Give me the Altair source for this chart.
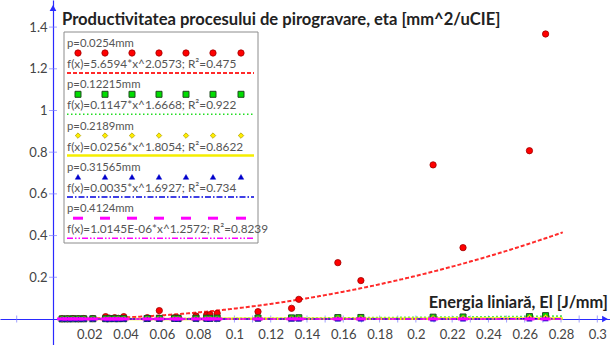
import altair as alt
import pandas as pd

# ---------------- data ----------------
el = [0.005, 0.008, 0.011, 0.014, 0.017, 0.022, 0.029, 0.031, 0.034, 0.036, 0.039,
      0.052, 0.0586, 0.067, 0.069, 0.0788, 0.0847, 0.0865, 0.0905, 0.113, 0.1315,
      0.1355, 0.157, 0.1697, 0.2095, 0.226, 0.2626, 0.2715]

eta_p1 = [0.001, 0.001, 0.002, 0.001, 0.002, 0.002, 0.011, 0.004, 0.006, 0.003, 0.011,
          0.006, 0.040, 0.006, 0.005, 0.014, 0.019, 0.021, 0.027, 0.035, 0.051,
          0.094, 0.270, 0.184, 0.739, 0.342, 0.807, 1.367]
eta_p2 = [0.0002, 0.0003, 0.0004, 0.0005, 0.0006, 0.0009, 0.0012, 0.0010, 0.0013, 0.0011, 0.0015,
          0.0020, 0.0026, 0.0028, 0.0024, 0.0033, 0.0036, 0.0031, 0.0039, 0.0046, 0.0050,
          0.0058, 0.0064, 0.0072, 0.0085, 0.0094, 0.0112, 0.0158]
eta_p3 = [0.0000, 0.0001, 0.0001, 0.0001, 0.0001, 0.0002, 0.0003, 0.0003, 0.0003, 0.0004, 0.0004,
          0.0006, 0.0007, 0.0009, 0.0009, 0.0011, 0.0012, 0.0013, 0.0013, 0.0020, 0.0025,
          0.0027, 0.0035, 0.0041, 0.0052, 0.0060, 0.0078, 0.0091]
eta_p4 = [0.0000, 0.0000, 0.0000, 0.0000, 0.0000, 0.0000, 0.0001, 0.0001, 0.0001, 0.0001, 0.0001,
          0.0001, 0.0001, 0.0001, 0.0001, 0.0002, 0.0002, 0.0002, 0.0002, 0.0003, 0.0003,
          0.0004, 0.0005, 0.0005, 0.0007, 0.0007, 0.0009, 0.0011]
eta_p5 = [0.0] * 28

series_names = ["p=0.0254mm", "p=0.12215mm", "p=0.2189mm", "p=0.31565mm", "p=0.4124mm"]
series_values = [eta_p1, eta_p2, eta_p3, eta_p4, eta_p5]
fit_a = [5.6594, 0.1147, 0.0256, 0.0035, 1.0145e-06]
fit_b = [2.0573, 1.6668, 1.8054, 1.6927, 1.2572]
fit_labels = ["f(x)=5.6594*x^2.0573; R²=0.475",
              "f(x)=0.1147*x^1.6668; R²=0.922",
              "f(x)=0.0256*x^1.8054; R²=0.8622",
              "f(x)=0.0035*x^1.6927; R²=0.734",
              "f(x)=1.0145E-06*x^1.2572; R²=0.8239"]
fit_x_range = [0.004, 0.2815]

x_tick_labels = [0.02, 0.04, 0.06, 0.08, 0.1, 0.12, 0.14, 0.16, 0.18, 0.2, 0.22, 0.24, 0.26, 0.28, 0.3]
x_minor_ticks = [-0.02] + [round(0.01 * i, 2) for i in range(1, 31)]
y_tick_labels = [0.2, 0.4, 0.6, 0.8, 1.0, 1.2, 1.4]

chart_title = "Productivitatea procesului de pirogravare, eta [mm^2/uCIE]"
x_title = "Energia liniară, El [J/mm]"

# ---------------- layout / style ----------------
W, H = 610, 345
X_DOM = [-0.0292, 0.3070]
Y_DOM = [-0.125, 1.530]
FONT = "Lato"
AXIS_BLUE = "#2a2aff"
TICK_BLUE = "#7777ff"

bar_path = "M -1 -0.3 L 1 -0.3 L 1 0.3 L -1 0.3 Z"
styles = [
    dict(shape="circle", fill="#ff0000", stroke="#a00000", size=40, sw=0.8,
         line="#ff2a2a", dash=[4, 2], lw=2),
    dict(shape="square", fill="#00dd00", stroke="#1f4a1f", size=36, sw=1.0,
         line="#22dd22", dash=[1.5, 2.5], lw=1.6),
    dict(shape="diamond", fill="#ffee00", stroke="#a89800", size=30, sw=0.7,
         line="#f5ee00", dash=None, lw=2.5),
    dict(shape="triangle-up", fill="#0000cc", stroke="#0000cc", size=30, sw=0.5,
         line="#0000dd", dash=[6, 2, 1.5, 2], lw=1.5),
    dict(shape=bar_path, fill="#ff00ff", stroke="#ff00ff", size=100, sw=0,
         line="#ff00ff", dash=[6, 2, 1.5, 2, 1.5, 2], lw=1.5),
]

xs = alt.Scale(domain=X_DOM, nice=False, zero=False)
ys = alt.Scale(domain=Y_DOM, nice=False, zero=False)

x_axis = alt.Axis(orient="bottom", offset=-26, values=x_tick_labels, format="~g",
                  ticks=False, tickSize=0, grid=False, domainColor=AXIS_BLUE,
                  domainWidth=1.2, labelFont=FONT, labelFontSize=13, labelColor="#444444",
                  labelPadding=9, labelFlush=False, labelOverlap=False, title=None)
y_axis = alt.Axis(orient="left", offset=-53, values=y_tick_labels, format="~g",
                  ticks=False, tickSize=0, grid=False, domainColor=AXIS_BLUE,
                  domainWidth=1.2, labelFont=FONT, labelFontSize=13, labelColor="#444444",
                  labelPadding=6, labelFlush=False, labelOverlap=False, title=None)


def X(field):
    return alt.X(field, type="quantitative", scale=xs, axis=x_axis)


def Y(field):
    return alt.Y(field, type="quantitative", scale=ys, axis=y_axis)


def px2x(px):
    return X_DOM[0] + px / W * (X_DOM[1] - X_DOM[0])


def px2y(py):
    return Y_DOM[1] - py / H * (Y_DOM[1] - Y_DOM[0])


one = pd.DataFrame({"a": [0]})
layers = []

# axis ticks (crossing)
layers.append(
    alt.Chart(pd.DataFrame({"x": x_minor_ticks, "y": [0.0] * len(x_minor_ticks)}))
    .mark_tick(orient="vertical", size=7, thickness=1, color=TICK_BLUE)
    .encode(x=X("x"), y=Y("y"))
)
layers.append(
    alt.Chart(pd.DataFrame({"x": [0.0] * len(y_tick_labels), "y": y_tick_labels}))
    .mark_tick(orient="horizontal", size=8, thickness=1, color=TICK_BLUE)
    .encode(x=X("x"), y=Y("y"))
)

# fitted curves
for a, b, st in zip(fit_a, fit_b, styles):
    mk = dict(color=st["line"], strokeWidth=st["lw"], clip=True)
    if st["dash"]:
        mk["strokeDash"] = st["dash"]
    layers.append(
        alt.Chart(alt.sequence(fit_x_range[0], fit_x_range[1], 0.0005, as_="x"))
        .transform_calculate(y=f"{a} * pow(datum.x, {b})")
        .mark_line(**mk)
        .encode(x=X("x"), y=Y("y"))
    )

# points
for vals, st in zip(series_values, styles):
    df = pd.DataFrame({"x": el, "y": vals})
    layers.append(
        alt.Chart(df)
        .mark_point(filled=True, shape=st["shape"], size=st["size"], fill=st["fill"],
                    stroke=st["stroke"], strokeWidth=st["sw"], opacity=1)
        .encode(x=X("x"), y=Y("y"))
    )

# legend box
layers.append(
    alt.Chart(one).mark_rect(fill="white", stroke="#8c8c8c", strokeWidth=1)
    .encode(x=alt.value(64), x2=alt.value(258), y=alt.value(32), y2=alt.value(243))
)

sym_px = [78, 105, 132, 159, 186, 213, 241]
for i, (name, lab, st) in enumerate(zip(series_names, fit_labels, styles)):
    base = 44 + 41.3 * i
    layers.append(
        alt.Chart(one).mark_text(text=name, align="left", baseline="middle", font=FONT,
                                 fontSize=11.3, color="#555555")
        .encode(x=alt.value(67), y=alt.value(base))
    )
    sdf = pd.DataFrame({"x": [px2x(p) for p in sym_px], "y": [px2y(base + 9)] * len(sym_px)})
    layers.append(
        alt.Chart(sdf)
        .mark_point(filled=True, shape=st["shape"], size=st["size"], fill=st["fill"],
                    stroke=st["stroke"], strokeWidth=st["sw"], opacity=1)
        .encode(x=X("x"), y=Y("y"))
    )
    layers.append(
        alt.Chart(one).mark_text(text=lab, align="left", baseline="middle", font=FONT,
                                 fontSize=11.8, color="#555555")
        .encode(x=alt.value(67), y=alt.value(base + 20))
    )
    rk = dict(color=st["line"], strokeWidth=st["lw"])
    if st["dash"]:
        rk["strokeDash"] = st["dash"]
    layers.append(
        alt.Chart(one).mark_rule(**rk)
        .encode(x=alt.value(67), x2=alt.value(254), y=alt.value(base + 29))
    )

# titles
layers.append(
    alt.Chart(one).mark_text(text=chart_title, align="left", baseline="middle", font=FONT,
                             fontSize=16.6, fontWeight="bold", color="#222222")
    .encode(x=alt.value(62), y=alt.value(20))
)
layers.append(
    alt.Chart(one).mark_text(text=x_title, align="right", baseline="middle", font=FONT,
                             fontSize=16.4, fontWeight="bold", color="#222222")
    .encode(x=alt.value(608), y=alt.value(303))
)

# axis arrows
layers.append(
    alt.Chart(one).mark_point(shape="triangle-up", filled=True, size=45, color=AXIS_BLUE, opacity=1)
    .encode(x=alt.value(53), y=alt.value(8))
)
layers.append(
    alt.Chart(one).mark_point(shape="triangle-right", filled=True, size=45, color=AXIS_BLUE, opacity=1)
    .encode(x=alt.value(605), y=alt.value(319))
)

chart = (
    alt.layer(*layers)
    .properties(width=W, height=H, padding=0, autosize=alt.AutoSizeParams(type="none"),
                background="white")
    .configure_view(stroke=None)
)

chart.save("out.html", embed_options={"renderer": "svg", "actions": False})
